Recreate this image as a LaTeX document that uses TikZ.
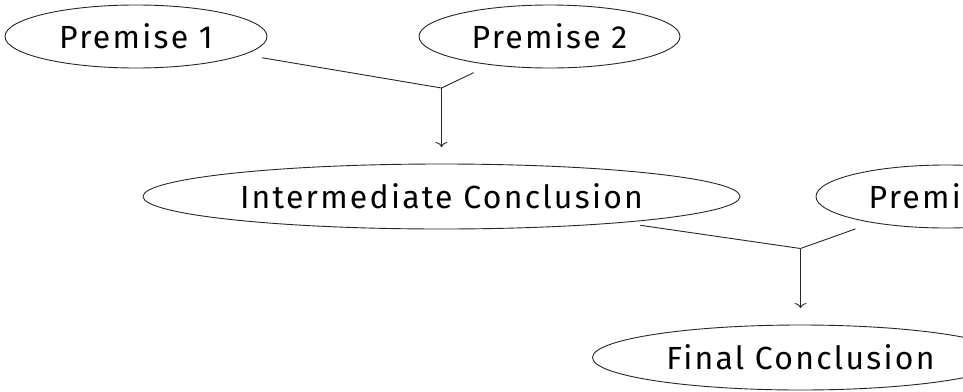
\documentclass[tikz,border=0pt]{standalone}
\usepackage{fontspec}
\setmainfont{Fira Sans}[LetterSpace=7]
\usetikzlibrary{shapes.geometric,arrows.meta}
\begin{document}
\begin{tikzpicture}[x=1pt,y=-1pt,
  claim/.style={ellipse,draw=black!85,line width=0.9pt,inner sep=0pt,
    font=\fontsize{32}{38}\selectfont,text=black},
  link/.style={draw=black!85,line width=0.9pt},
  infer/.style={link,-{To[length=5pt,width=12pt]}}]
\clip (0,0) rectangle (963,391);
\node[claim,minimum width=262pt,minimum height=63pt] (p1) at (136,36.5) {Premise 1};
\node[claim,minimum width=261pt,minimum height=63pt] (p2) at (549.5,36.5) {Premise 2};
\node[claim,minimum width=597pt,minimum height=65pt] (ic) at (441.5,196.5) {Intermediate Conclusion};
\node[claim,minimum width=261pt,minimum height=63pt] (p3) at (946.5,196.5) {Premise 3};
\node[claim,minimum width=416pt,minimum height=65pt] (fc) at (800.5,357.5) {Final Conclusion};
\coordinate (j1) at (441.5,88);
\coordinate (j2) at (800.5,248.5);
\draw[link,shorten <=18pt] (p1) -- (j1);
\draw[link,shorten <=18pt] (p2) -- (j1);
\draw[infer,shorten >=16.5pt] (j1) -- (ic.north);
\draw[link,shorten <=18pt] (ic) -- (j2);
\draw[link,shorten <=18pt] (p3) -- (j2);
\draw[infer,shorten >=16.5pt] (j2) -- (fc.north);
\end{tikzpicture}
\end{document}
